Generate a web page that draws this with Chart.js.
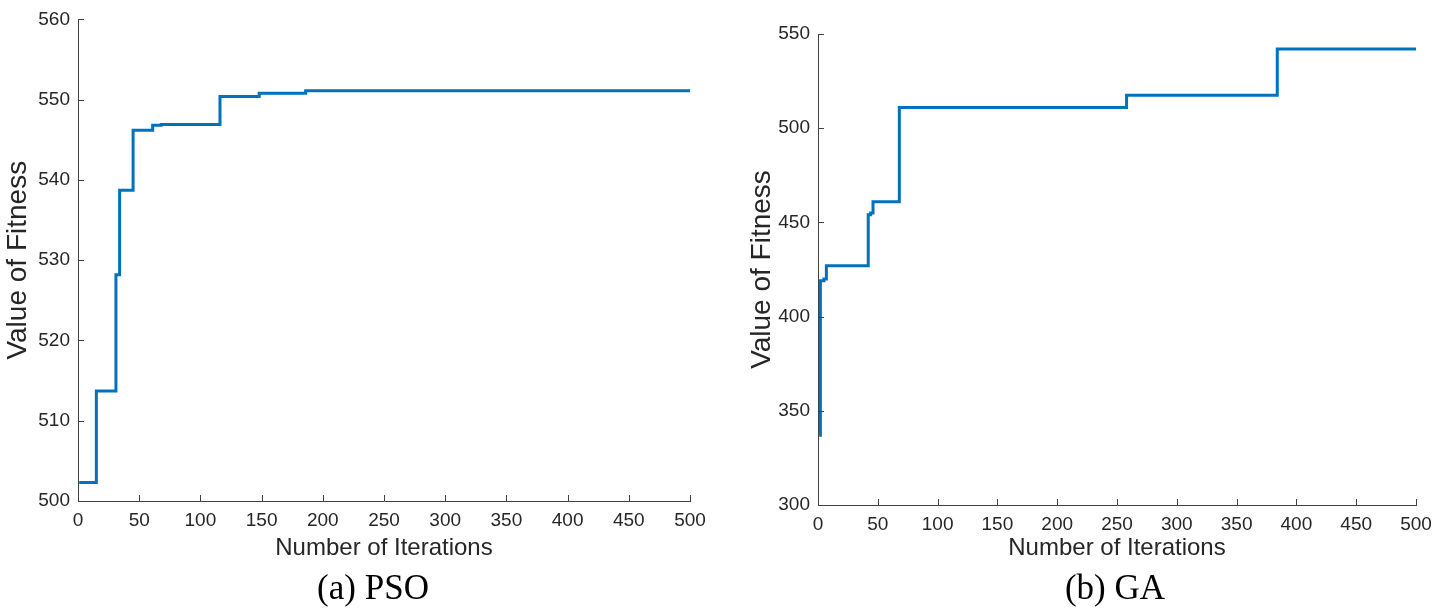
<!DOCTYPE html>
<html>
<head>
<meta charset="utf-8">
<script src="https://cdn.jsdelivr.net/npm/chart.js@4.4.0/dist/chart.umd.min.js"></script>
<style>
  html, body { margin: 0; padding: 0; background: #fff; }
  body { width: 1448px; height: 613px; position: relative; overflow: hidden; }
  .panel { position: absolute; top: 0; }
</style>
</head>
<body>
<div class="panel" style="left:0px"><canvas id="psoChart" width="720" height="613"></canvas></div>
<div class="panel" style="left:720px"><canvas id="gaChart" width="728" height="613"></canvas></div>
<script>
// PSO convergence (iteration where the best fitness changes)
const psoIter    = [1, 15, 31, 34, 45, 61, 68, 116, 148, 186, 500];
const psoFitness = [502.3, 513.7, 528.2, 538.7, 546.2, 546.8, 546.9, 550.4, 550.8, 551.1, 551.1];

// GA convergence
const gaIter    = [1, 2, 5, 7, 42, 44, 46, 68, 258, 384, 500];
const gaFitness = [337, 419, 420, 427, 454, 455, 461, 511, 517.5, 542, 542];

const xTicks = { min: 0, max: 500, step: 50 };
const psoYTicks = { min: 500, max: 560, step: 10 };
const gaYTicks = { min: 300, max: 550, step: 50 };

const lineColor = '#0072BD';
const axisColor = '#404040';
const textColor = '#262626';
const sansFont = '"Liberation Sans", Arial, Helvetica, sans-serif';
const serifFont = '"Liberation Serif", "Times New Roman", serif';

// matlab style ticks that point into the plot
const insideTicks = {
    id: 'insideTicks',
    afterDraw(chart) {
        const ctx = chart.ctx;
        const xs = chart.scales.x, ys = chart.scales.y;
        ctx.save();
        ctx.strokeStyle = axisColor;
        ctx.lineWidth = 1;
        ctx.beginPath();
        xs.ticks.forEach(t => {
            const px = Math.round(xs.getPixelForValue(t.value)) + 0.5;
            ctx.moveTo(px, ys.bottom);
            ctx.lineTo(px, ys.bottom - 6);
        });
        ys.ticks.forEach(t => {
            const py = Math.round(ys.getPixelForValue(t.value)) + 0.5;
            ctx.moveTo(xs.left, py);
            ctx.lineTo(xs.left + 6, py);
        });
        ctx.stroke();
        ctx.restore();
    }
};

// move the caption under the plot instead of the whole canvas
const captionPos = {
    id: 'captionPos',
    afterLayout(chart, args, o) {
        const t = chart.titleBlock;
        if (!t) return;
        const w = t.right - t.left;
        t.left = o.center - w / 2;
        t.right = o.center + w / 2;
    }
};

function makeChart(id, iters, values, yTicks, caption, opts) {
    const ctx = document.getElementById(id).getContext('2d');
    const points = iters.map((it, i) => ({ x: it, y: values[i] }));
    return new Chart(ctx, {
        type: 'line',
        data: {
            datasets: [{
                data: points,
                borderColor: lineColor,
                borderWidth: 3,
                pointRadius: 0,
                fill: false,
                stepped: 'before' // hold the value, then jump at the next iteration
            }]
        },
        options: {
            responsive: false,
            animation: false,
            devicePixelRatio: 1,
            layout: {
                padding: { top: opts.top, right: opts.right, left: 0, bottom: 0 }
            },
            scales: {
                x: {
                    type: 'linear',
                    min: xTicks.min,
                    max: xTicks.max,
                    afterFit: s => { s.height = opts.xHeight; },
                    grid: { display: false, drawTicks: false },
                    border: { display: true, color: axisColor, width: 1 },
                    ticks: {
                        stepSize: xTicks.step,
                        padding: 8,
                        color: textColor,
                        font: { family: sansFont, size: 19 },
                        maxRotation: 0
                    },
                    title: {
                        display: true,
                        text: 'Number of Iterations',
                        color: textColor,
                        font: { family: sansFont, size: 24 },
                        padding: 0
                    }
                },
                y: {
                    min: yTicks.min,
                    max: yTicks.max,
                    afterFit: s => { s.width = opts.yWidth; },
                    grid: { display: false, drawTicks: false },
                    border: { display: true, color: axisColor, width: 1 },
                    ticks: {
                        stepSize: yTicks.step,
                        padding: 8,
                        color: textColor,
                        font: { family: sansFont, size: 19 }
                    },
                    title: {
                        display: true,
                        text: 'Value of Fitness',
                        color: textColor,
                        font: { family: sansFont, size: 28 },
                        padding: { top: opts.yTitlePad, bottom: 0 }
                    }
                }
            },
            plugins: {
                legend: { display: false },
                tooltip: { enabled: false },
                title: {
                    display: true,
                    position: 'bottom',
                    text: caption,
                    color: '#000',
                    font: { family: serifFont, size: 35, weight: 'normal' },
                    padding: { top: 6, bottom: 2 }
                },
                captionPos: { center: opts.captionX }
            }
        },
        plugins: [insideTicks, captionPos]
    });
}

makeChart('psoChart', psoIter, psoFitness, psoYTicks, '(a) PSO',
    { top: 15, right: 30, xHeight: 62, yWidth: 78, yTitlePad: 1, captionX: 373 });
makeChart('gaChart', gaIter, gaFitness, gaYTicks, '(b) GA',
    { top: 34, right: 32, xHeight: 58, yWidth: 98, yTitlePad: 25, captionX: 395 });
</script>
</body>
</html>
